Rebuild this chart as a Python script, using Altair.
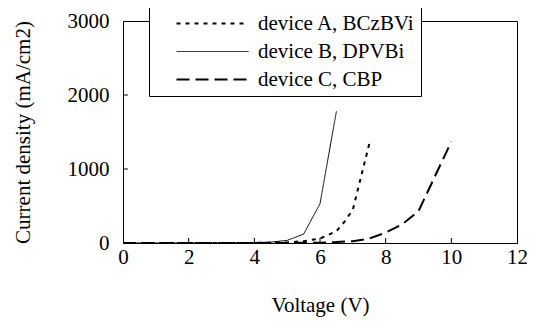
import altair as alt
import pandas as pd

# Data
v_a = [0, 1, 2, 3, 4, 5, 5.5, 6, 6.25, 6.5, 6.75, 7, 7.5]
j_a = [0, 0, 0, 0, 1, 8, 25, 60, 110, 160, 290, 450, 1340]
v_b = [0, 1, 2, 3, 4, 4.5, 5, 5.5, 6, 6.5]
j_b = [0, 0, 0, 1, 5, 12, 35, 120, 530, 1780]
v_c = [0, 1, 2, 3, 4, 5, 6, 6.5, 7, 7.5, 8, 8.5, 9, 10]
j_c = [0, 0, 0, 0, 0, 1, 5, 12, 25, 60, 140, 250, 430, 1370]
labels = ["device A, BCzBVi", "device B, DPVBi", "device C, CBP"]
x_ticks = [0, 2, 4, 6, 8, 10, 12]
y_ticks = [0, 1000, 2000, 3000]
inner_x_ticks = [2, 4, 6, 8, 10]
inner_y_ticks = [1000, 2000]

rows = []
for lab, vs, js in zip(labels, [v_a, v_b, v_c], [j_a, j_b, j_c]):
    for i, (v, j) in enumerate(zip(vs, js)):
        rows.append({"device": lab, "V": v, "J": j, "order": i})
df = pd.DataFrame(rows)

FONT = "Liberation Serif"
FS = 21

xs = alt.Scale(domain=[0, 12], nice=False)
ys = alt.Scale(domain=[0, 3000], nice=False)

lines = alt.Chart(df).mark_line(color="black").encode(
    x=alt.X("V:Q", scale=xs, title="Voltage (V)",
            axis=alt.Axis(values=x_ticks, ticks=False, labelPadding=3, titlePadding=27,
                          labelFlush=False, format="d")),
    y=alt.Y("J:Q", scale=ys, title="Current density (mA/cm2)",
            axis=alt.Axis(values=y_ticks, ticks=False, labelPadding=14, titlePadding=34,
                          labelFlush=False, format="d")),
    order="order:Q",
    strokeDash=alt.StrokeDash(
        "device:N",
        scale=alt.Scale(domain=labels, range=[[4, 5], [1, 0], [13, 6]]),
        legend=alt.Legend(
            title=None, orient="none", legendX=26, legendY=-14,
            fillColor="white", strokeColor="black", padding=6,
            symbolType="M-4,0H4", symbolSize=324, symbolStrokeColor="black",
            symbolOffset=47, labelOffset=35, rowPadding=6,
            labelFont=FONT, labelFontSize=FS, labelColor="black",
        ),
    ),
    strokeWidth=alt.StrokeWidth(
        "device:N",
        scale=alt.Scale(type="ordinal", domain=labels, range=[2, 1, 2]),
    ),
)

xt = pd.DataFrame({"V": inner_x_ticks, "y0": [0] * len(inner_x_ticks), "y1": [68] * len(inner_x_ticks)})
yt = pd.DataFrame({"J": inner_y_ticks, "x0": [0] * len(inner_y_ticks), "x1": [0.15] * len(inner_y_ticks)})

xtick_layer = alt.Chart(xt).mark_rule(color="black", strokeWidth=1).encode(
    x=alt.X("V:Q", scale=xs), y=alt.Y("y0:Q", scale=ys), y2="y1:Q"
)
ytick_layer = alt.Chart(yt).mark_rule(color="black", strokeWidth=1).encode(
    y=alt.Y("J:Q", scale=ys), x=alt.X("x0:Q", scale=xs), x2="x1:Q"
)

chart = alt.layer(lines, xtick_layer, ytick_layer).properties(
    width=394, height=222,
    autosize=alt.AutoSizeParams(type="none"),
    padding={"left": 115, "top": 13, "right": 10, "bottom": 76},
    background="white",
).configure(
    font=FONT
).configure_view(
    stroke="black", strokeWidth=1
).configure_axis(
    grid=False, domainColor="black", labelColor="black", titleColor="black",
    labelFont=FONT, titleFont=FONT, labelFontSize=FS, titleFontSize=FS,
    titleFontWeight="normal",
)

chart.save("out.html", embed_options={"renderer": "svg", "actions": False})
